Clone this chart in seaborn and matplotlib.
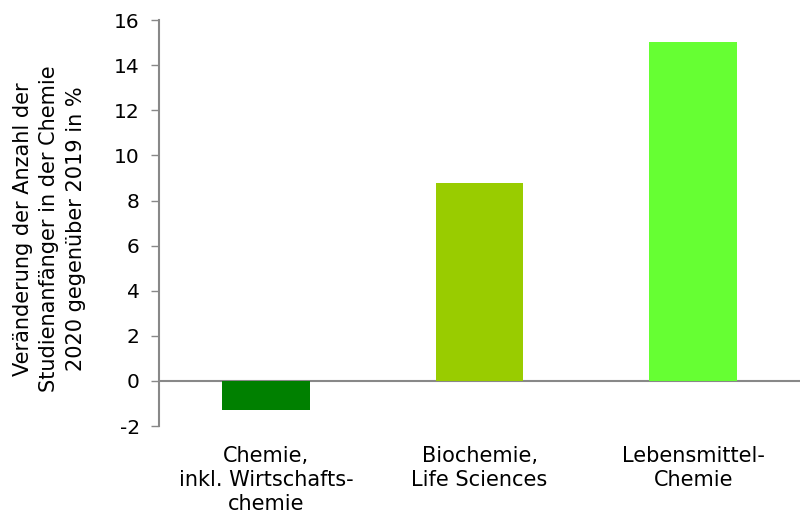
import matplotlib
matplotlib.use("Agg")
import matplotlib.pyplot as plt
import seaborn as sns
import pandas as pd

categories = ["Chemie,\ninkl. Wirtschafts-\nchemie", "Biochemie,\nLife Sciences", "Lebensmittel-\nChemie"]
values = [-1.3, 8.8, 15.05]
colors = ["#008000", "#99CC00", "#66FF33"]
yticks = [-2, 0, 2, 4, 6, 8, 10, 12, 14, 16]

sns.set_style("white")
plt.rcParams['font.family'] = ['DejaVu Sans']
plt.rcParams['axes.unicode_minus'] = False
plt.rcParams['text.color'] = "black"

df = pd.DataFrame({"Kategorie": categories, "Wert": values})

fig = plt.figure(figsize=(8, 5.17), dpi=100)
ax = fig.add_axes([0.199, 0.176, 0.801, 0.785])
sns.barplot(data=df, x="Kategorie", y="Wert", hue="Kategorie", palette=colors,
            width=0.41, saturation=1, legend=False, linewidth=0, ax=ax)

ax.set_ylim(-2, 16)
ax.set_yticks(yticks)
ax.set_xlim(-0.5, 2.5)
ax.axhline(0, color="#888888", lw=1.5, zorder=0.5)

for s in ["top", "right", "bottom"]:
    ax.spines[s].set_visible(False)
ax.spines["left"].set_color("#888888")
ax.spines["left"].set_linewidth(1.5)
ax.tick_params(axis="y", left=True, length=6, width=1, color="#888888",
               labelsize=14.5, labelcolor="black", pad=8)
ax.tick_params(axis="x", bottom=False, labelsize=15, labelcolor="black", pad=11)
for lab in ax.get_xticklabels():
    lab.set_linespacing(1.25)

ax.set_xlabel("")
ax.set_ylabel("Veränderung der Anzahl der\nStudienanfänger in der Chemie\n2020 gegenüber 2019 in %",
              fontsize=15, color="black", linespacing=1.4)
ax.yaxis.set_label_coords(-0.115, 0.485)

fig.savefig("out.png", dpi=100)
